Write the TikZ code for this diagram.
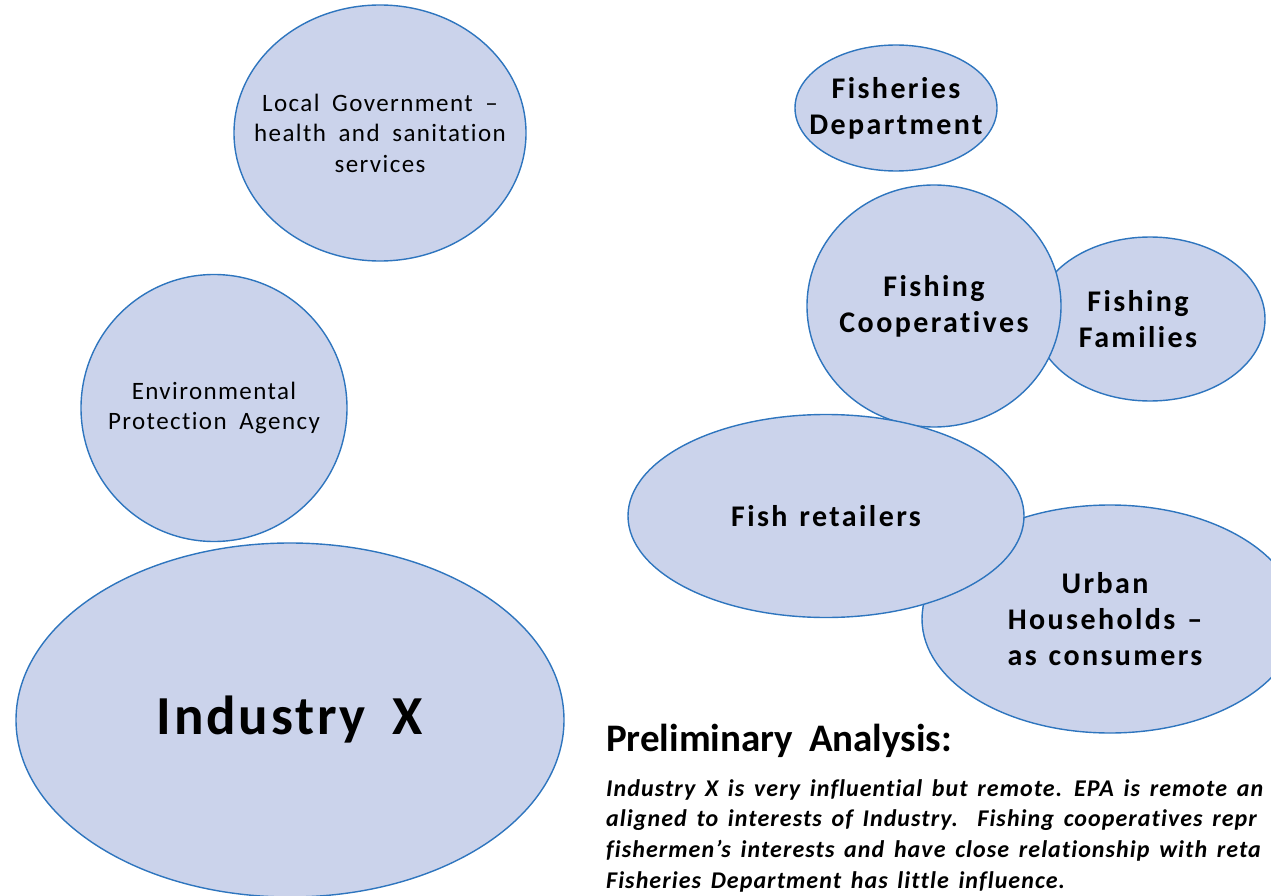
\documentclass[tikz,border=0pt]{standalone}
\usepackage{fontspec}
\setmainfont{Carlito}
\newfontfamily\plainfam{Carlito}[LetterSpace=5.6,WordSpace=1.8,Ligatures=NoCommon]
\newfontfamily\heavyfam{Carlito}[LetterSpace=8,WordSpace=1.3,Ligatures=NoCommon]
\newfontfamily\bigfam{Carlito}[LetterSpace=5,WordSpace=1.8,Ligatures=NoCommon]
\newfontfamily\parafam{Carlito}[LetterSpace=4.4,WordSpace=1.5,Ligatures=NoCommon]
\usetikzlibrary{shapes.geometric}
\definecolor{blobfill}{RGB}{203,211,235}
\definecolor{blobline}{RGB}{46,117,190}

\begin{document}
\begin{tikzpicture}[x=1pt,y=-1pt]
            \tikzstyle{blob}=[ellipse, draw=blobline, fill=blobfill, line width=1.4pt, inner sep=0pt]
            \tikzstyle{plain}=[align=center, inner sep=0pt, font=\fontsize{25}{30.5}\plainfam]
            \tikzstyle{heavy}=[align=center, inner sep=0pt, font=\fontsize{30}{36}\heavyfam\bfseries]
            \useasboundingbox (0,0) rectangle (1271,896);
            \clip (0,0) rectangle (1271,896);
            % left column
            \node[blob, minimum width=292, minimum height=256] (lg) at (380,133) {};
            \node[plain] (lgt) at (lg) {Local Government –\\health and sanitation\\services};
            \node[blob, minimum width=266, minimum height=267] (epa) at (214,408) {};
            \node[plain] (epat) at (epa) {Environmental\\Protection Agency};
            \node[blob, minimum width=548, minimum height=354] (ix) at (290,720) {};
            \node[font=\fontsize{55}{66}\bigfam\bfseries] (ixt) at (ix) {Industry X};
            % right column
            \node[blob, minimum width=202, minimum height=126] (fd) at (896,108) {};
            \node[heavy] (fdt) at (fd) {Fisheries\\Department};
            \node[blob, minimum width=230, minimum height=164] (ff) at (1150,319) {};
            \node[heavy] (fft) at (1138,319) {Fishing\\Families};
            \node[blob, minimum width=254, minimum height=242] (fc) at (934,306) {};
            \node[heavy] (fct) at (fc) {Fishing\\Cooperatives};
            \node[blob, minimum width=376, minimum height=228] (uh) at (1110,619) {};
            \node[heavy] (uht) at (1105,619) {Urban\\Households –\\as consumers};
            \node[blob, minimum width=396, minimum height=203] (fr) at (826,516) {};
            \node[heavy] (frt) at (fr) {Fish retailers};
            % analysis
            \node[anchor=base west, inner sep=0pt, font=\fontsize{39}{46}\bigfam\bfseries\addfontfeatures{LetterSpace=0}] (pa) at (606,751) {Preliminary Analysis:};
            \node[anchor=north west, inner sep=0pt, align=left, font=\fontsize{24}{30.8}\parafam\bfseries\itshape] (tx) at (606,779) {Industry X is very influential but remote. EPA is remote an\\aligned to interests of Industry.\ \ Fishing cooperatives repr\\fishermen’s interests and have close relationship with reta\\Fisheries Department has little influence.};
        \end{tikzpicture}
\end{document}
